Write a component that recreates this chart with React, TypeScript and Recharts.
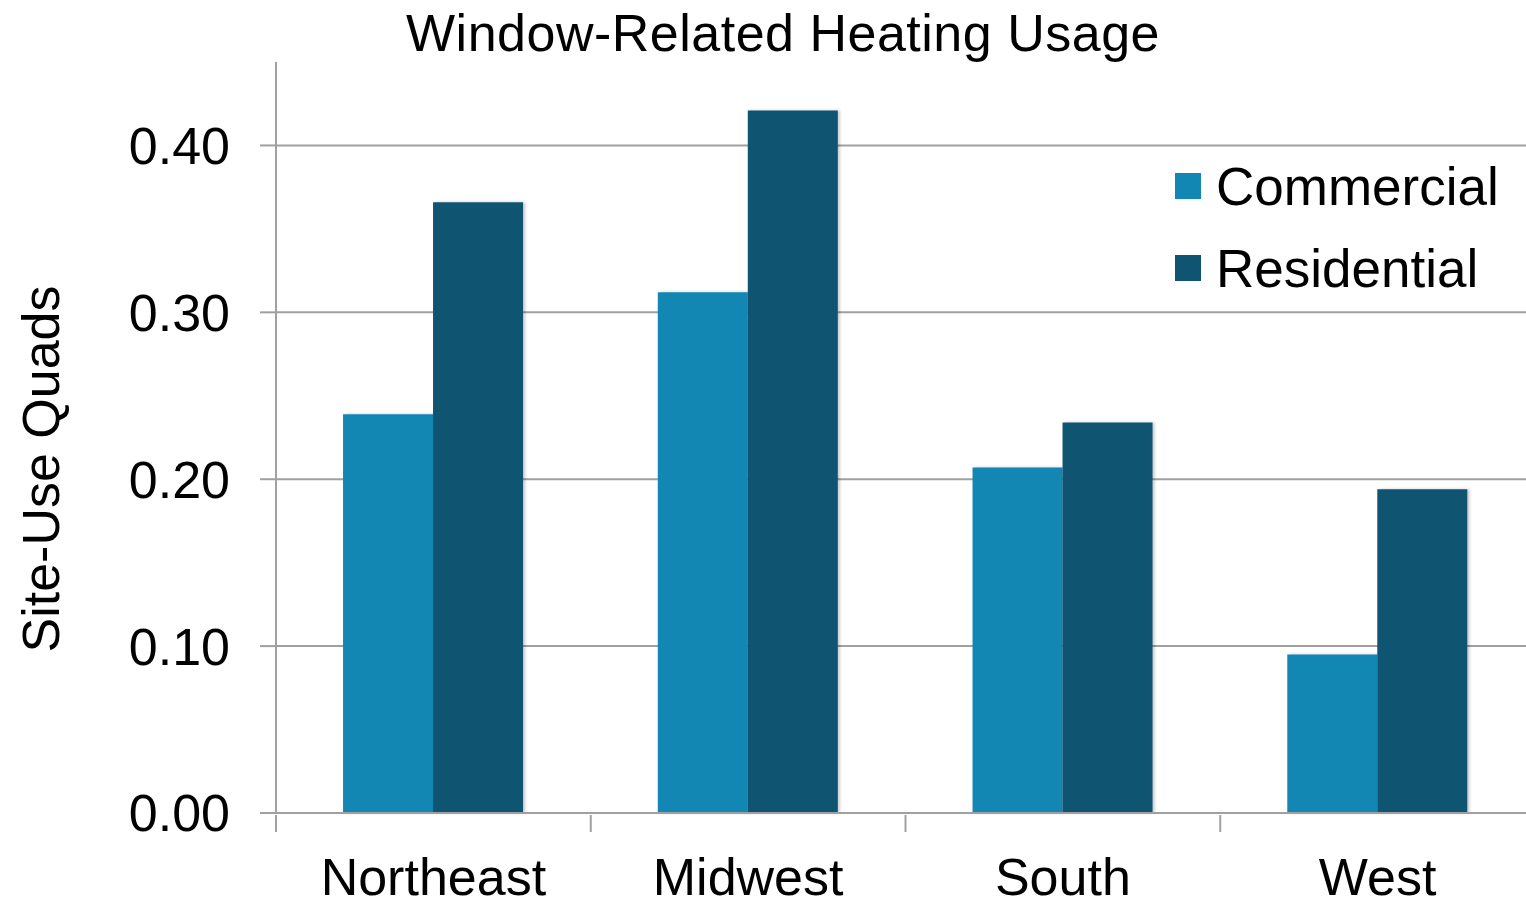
import { BarChart, Bar, XAxis, YAxis, CartesianGrid, Legend, Rectangle } from "recharts"

// Window-related heating energy, site-use quads by census region
const regions = ["Northeast", "Midwest", "South", "West"]
const commercial = [0.239, 0.312, 0.207, 0.095]
const residential = [0.366, 0.421, 0.234, 0.194]
const yTicks = [0, 0.1, 0.2, 0.3, 0.4]

const COMMERCIAL = "#1287B4"
const RESIDENTIAL = "#0F5471"
const GRID = "#a0a0a0"
const FONT = "'Liberation Sans', Arial, sans-serif"

const CHART_W = 1535
const PLOT_LEFT = 276
const BAND = (CHART_W - PLOT_LEFT) / regions.length

const data = regions.map((name, i) => ({
  name,
  Commercial: commercial[i],
  Residential: residential[i],
}))

// category label plus a tick mark on the left edge of each band
function RegionTick({ x, y, payload }: any) {
  const edge = x - BAND / 2
  return (
    <g>
      <line x1={edge} x2={edge} y1={y} y2={y + 17} stroke={GRID} strokeWidth={2} />
      <text
        x={x}
        y={y + 43}
        dy="0.71em"
        textAnchor="middle"
        fill="#000"
        fontSize={52}
        fontFamily={FONT}
      >
        {payload.value}
      </text>
    </g>
  )
}

// bars carry a faint shadow on their right side
const ShadowBar = (props: any) => (
  <Rectangle {...props} style={{ filter: "drop-shadow(2px 0px 1.5px rgba(0,0,0,0.22))" }} />
)

function LegendBox({ payload }: any) {
  return (
    <div style={{ fontFamily: FONT, fontSize: 53, color: "#000" }}>
      {(payload || []).map((entry: any) => (
        <div
          key={entry.value}
          style={{ display: "flex", alignItems: "center", height: 82 }}
        >
          <span
            style={{
              display: "inline-block",
              width: 26,
              height: 26,
              background: entry.color,
              marginRight: 15,
            }}
          />
          <span>{entry.value}</span>
        </div>
      ))}
    </div>
  )
}

export default function App() {
  return (
    <div
      style={{
        position: "fixed",
        top: 0,
        left: 0,
        width: 1526,
        height: 900,
        overflow: "hidden",
        background: "#fff",
      }}
    >
      <div
        style={{
          position: "absolute",
          top: 3,
          left: 0,
          width: 1566,
          textAlign: "center",
          fontFamily: FONT,
          fontSize: 52,
          lineHeight: "60px",
          color: "#000",
          letterSpacing: 0.5,
        }}
      >
        Window-Related Heating Usage
      </div>
      <div style={{ position: "absolute", top: 0, left: 0 }}>
        <BarChart
          width={CHART_W}
          height={900}
          data={data}
          margin={{ top: 62, right: 0, left: 0, bottom: 0 }}
          barCategoryGap="21.3%"
          barGap={0}
        >
          <CartesianGrid
            vertical={false}
            stroke={GRID}
            strokeWidth={2}
            horizontalValues={yTicks}
          />
          <XAxis
            dataKey="name"
            height={87}
            axisLine={{ stroke: GRID, strokeWidth: 2 }}
            tickLine={false}
            tickSize={0}
            tick={<RegionTick />}
          />
          <YAxis
            width={PLOT_LEFT}
            domain={[0, 0.45]}
            ticks={yTicks}
            tickFormatter={(v: number) => v.toFixed(2)}
            axisLine={{ stroke: GRID, strokeWidth: 2 }}
            tickSize={16}
            tickMargin={30}
            tickLine={{ stroke: GRID, strokeWidth: 2 }}
            tick={{ fill: "#000", fontSize: 52, fontFamily: FONT }}
            label={{
              content: () => (
                <text
                  x={40}
                  y={469}
                  transform="rotate(-90 40 469)"
                  textAnchor="middle"
                  dy="0.36em"
                  fill="#000"
                  fontSize={52}
                  fontFamily={FONT}
                >
                  Site-Use Quads
                </text>
              ),
            }}
          />
          <Legend
            layout="vertical"
            align="center"
            verticalAlign="middle"
            content={<LegendBox />}
            wrapperStyle={{ left: 1175, top: 145, width: 360, height: 170 }}
          />
          <Bar dataKey="Commercial" fill={COMMERCIAL} shape={ShadowBar} isAnimationActive={false} />
          <Bar dataKey="Residential" fill={RESIDENTIAL} shape={ShadowBar} isAnimationActive={false} />
        </BarChart>
      </div>
    </div>
  )
}
